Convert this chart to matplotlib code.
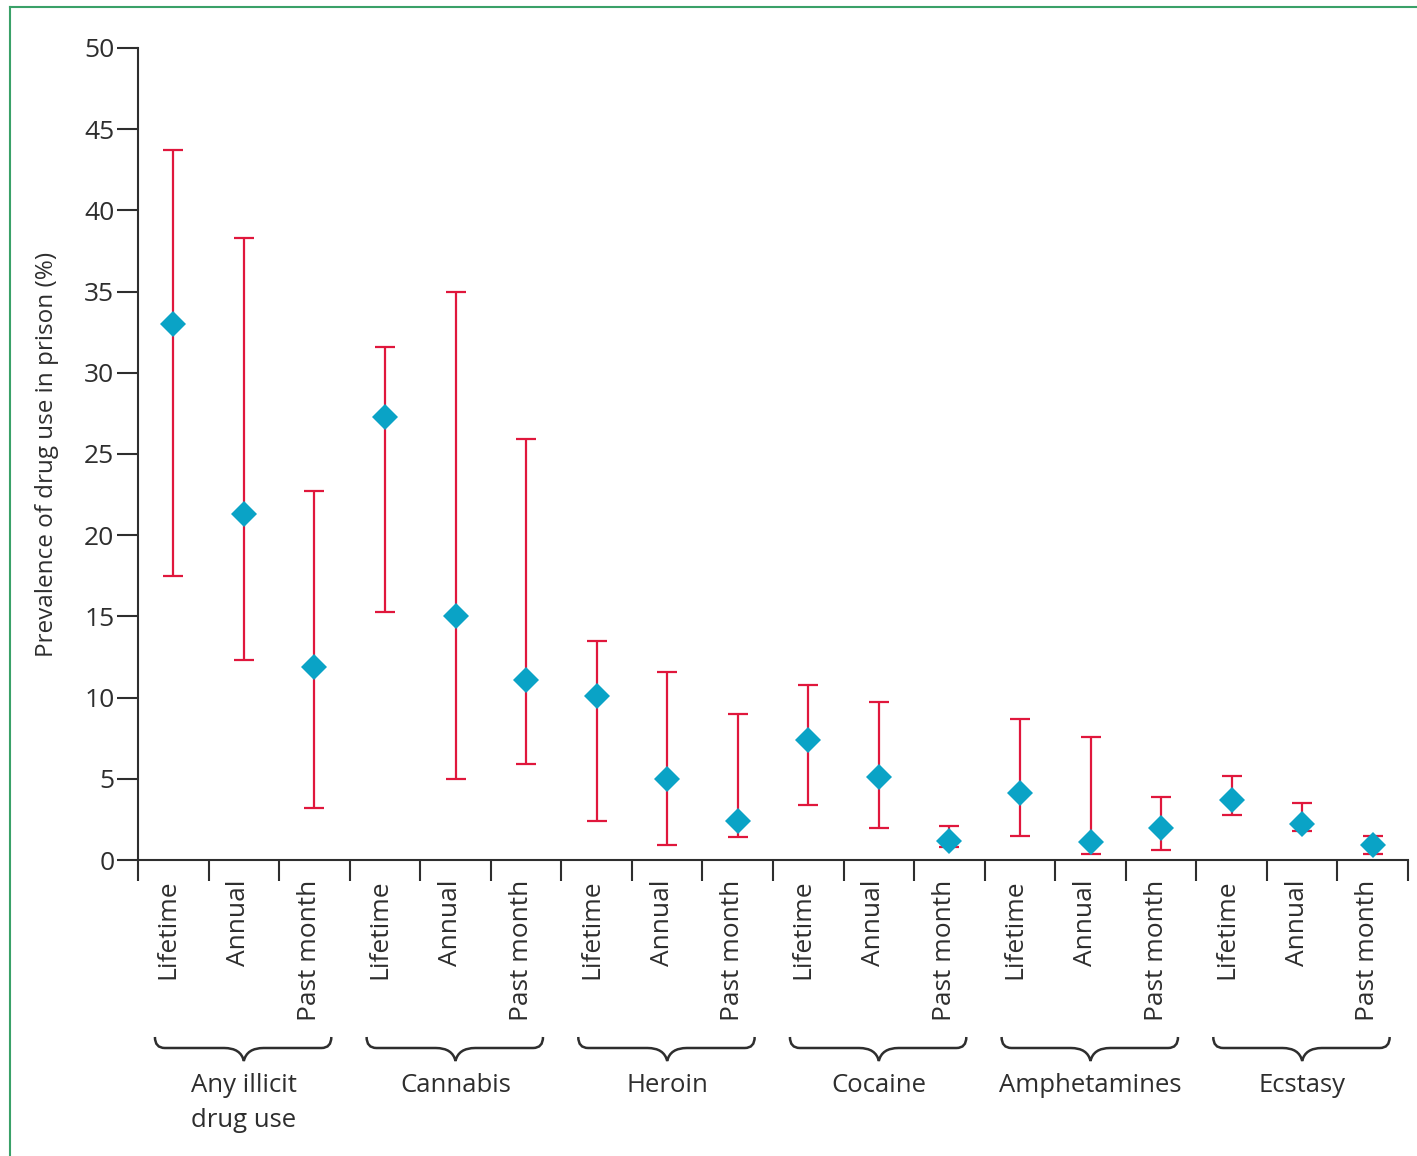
import matplotlib
matplotlib.use('Agg')
from matplotlib import pyplot as plt
from matplotlib.path import Path
from matplotlib.patches import PathPatch
from matplotlib.transforms import blended_transform_factory
import numpy as np

plt.rcParams['font.family'] = ['Open Sans', 'DejaVu Sans']

groups = ['Any illicit\ndrug use', 'Cannabis', 'Heroin', 'Cocaine', 'Amphetamines', 'Ecstasy']
periods = ['Lifetime', 'Annual', 'Past month']

prevalence = [33.0, 21.3, 11.9,
              27.3, 15.0, 11.1,
              10.1, 5.0, 2.4,
              7.4, 5.1, 1.2,
              4.1, 1.1, 2.0,
              3.7, 2.2, 0.9]
lower = [17.5, 12.3, 3.2,
         15.3, 5.0, 5.9,
         2.4, 0.9, 1.4,
         3.4, 2.0, 0.8,
         1.5, 0.4, 0.6,
         2.8, 1.8, 0.4]
upper = [43.7, 38.3, 22.7,
         31.6, 35.0, 25.9,
         13.5, 11.6, 9.0,
         10.8, 9.7, 2.1,
         8.7, 7.6, 3.9,
         5.2, 3.5, 1.5]

W, H = 1417, 1156
fig = plt.figure(figsize=(W / 100, H / 100), dpi=100)
ax = fig.add_axes([138 / W, 1 - 860 / H, (1408 - 138) / W, (860 - 48) / H])

text_col = '#2e2e2e'
x = np.arange(len(prevalence))
prev = np.array(prevalence)
yerr = [prev - np.array(lower), np.array(upper) - prev]
ax.errorbar(x, prev, yerr=yerr, fmt='none', ecolor='#e0173c', elinewidth=1.6,
            capsize=7.5, capthick=1.6, zorder=2)
ax.plot(x, prev, 'D', color='#0aa3c6', markersize=13, markeredgewidth=0, zorder=3)

ax.set_xlim(-0.5, len(prevalence) - 0.5)
ax.set_ylim(0, 50)
for s in ['top', 'right']:
    ax.spines[s].set_visible(False)
for s in ['left', 'bottom']:
    ax.spines[s].set_color(text_col)
    ax.spines[s].set_linewidth(1.5)

ax.set_yticks(range(0, 51, 5))
ax.tick_params(axis='y', length=15, width=1.5, color=text_col, labelsize=19,
               labelcolor=text_col, pad=2)
ax.set_xticks(np.arange(-0.5, len(prevalence), 1))
ax.set_xticklabels([])
ax.tick_params(axis='x', which='major', length=15, width=1.5, color=text_col)
ax.set_xticks(x - 0.07, minor=True)
ax.set_xticklabels(periods * len(groups), minor=True, rotation=90, va='top')
ax.tick_params(axis='x', which='minor', length=0, labelsize=19, labelcolor=text_col, pad=14)

ax.set_ylabel('Prevalence of drug use in prison (%)', fontsize=17.5, color=text_col, labelpad=18)

# braces below the period labels
tr = blended_transform_factory(ax.transData, fig.transFigure)
yt, yb, ytip = 1 - 1037 / H, 1 - 1048 / H, 1 - 1061 / H
for g, name in enumerate(groups):
    x0 = g * 3 - 0.26
    x1 = g * 3 + 2.24
    xm = g * 3 + 1.0
    d = 0.14
    verts = [(x0, yt), (x0, yb), (x0 + d, yb),
             (xm - 2 * d, yb),
             (xm - d * 0.3, yb), (xm, ytip),
             (xm + d * 0.3, yb), (xm + 2 * d, yb),
             (x1 - d, yb),
             (x1, yb), (x1, yt)]
    codes = [Path.MOVETO, Path.CURVE3, Path.CURVE3,
             Path.LINETO,
             Path.CURVE3, Path.CURVE3,
             Path.CURVE3, Path.CURVE3,
             Path.LINETO,
             Path.CURVE3, Path.CURVE3]
    ax.add_patch(PathPatch(Path(verts, codes), transform=tr, fill=False,
                           edgecolor=text_col, linewidth=1.8, clip_on=False))
    ax.text(xm, 1 - 1073 / H, name, transform=tr, ha='center', va='top',
            fontsize=18.5, color=text_col, linespacing=1.55)

# green frame
fig.add_artist(plt.Line2D([10 / W, 10 / W], [0, 1 - 7 / H], color='#3aa168', linewidth=1.5))
fig.add_artist(plt.Line2D([10 / W, 1], [1 - 7 / H, 1 - 7 / H], color='#3aa168', linewidth=1.5))

fig.savefig('out.png', dpi=100)
